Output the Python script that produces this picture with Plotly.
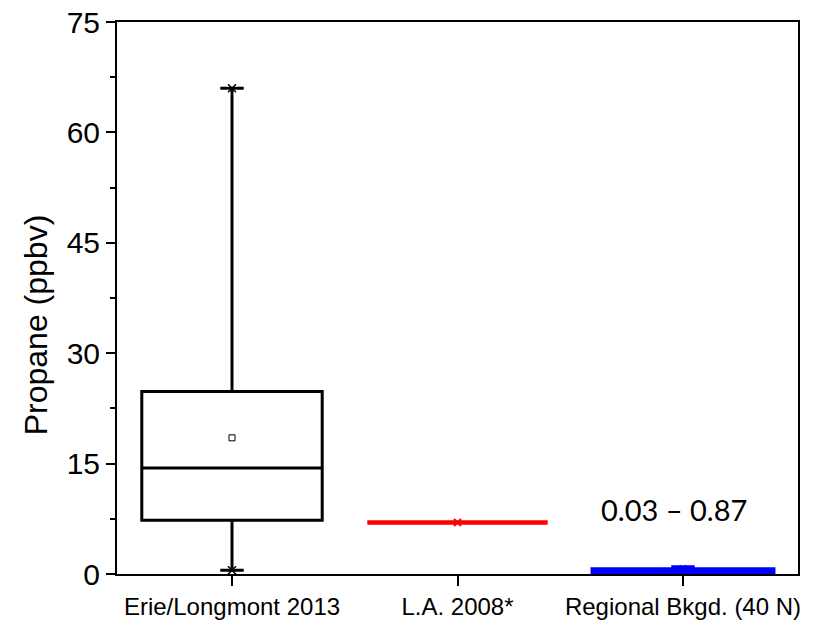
import plotly.graph_objects as go

categories = ["Erie/Longmont 2013", "L.A. 2008*", "Regional Bkgd. (40 N)"]
colors = ["black", "red", "blue"]
q1 = [7.3, 7.0, 0.3]
median = [14.4, 7.0, 0.45]
q3 = [24.8, 7.0, 0.6]
lower = [0.5, 7.0, 0.3]
upper = [66.0, 7.0, 0.87]
mean = [18.5, 7.0, 0.7]
range_label = "0.03 – 0.87"
y_title = "Propane (ppbv)"

fig = go.Figure()
for i, c in enumerate(categories):
    fig.add_trace(go.Box(
        x=[c], q1=[q1[i]], median=[median[i]], q3=[q3[i]],
        lowerfence=[lower[i]], upperfence=[upper[i]],
        line=dict(color=colors[i], width=3 if i == 0 else 4.5),
        fillcolor="rgba(0,0,0,0)", width=0.8, whiskerwidth=0.13,
        boxpoints=False, showlegend=False, hoverinfo="skip"))

# mean markers
fig.add_trace(go.Scatter(
    x=categories[:1], y=mean[:1], mode="markers",
    marker=dict(symbol="square-open", size=6, color="black", line=dict(width=1, color="black")),
    showlegend=False))
fig.add_trace(go.Scatter(
    x=categories[1:], y=mean[1:], mode="markers",
    marker=dict(symbol="x-thin-open", size=7, color=colors[1:], line=dict(width=2, color=colors[1:])),
    showlegend=False))
# fence markers for first box
fig.add_trace(go.Scatter(
    x=[categories[0], categories[0]], y=[lower[0], upper[0]], mode="markers",
    marker=dict(symbol="x-thin-open", size=8, color="black", line=dict(width=1.5, color="black")),
    showlegend=False))

fig.add_annotation(x=1.96, y=8.7, text=range_label, showarrow=False,
                   font=dict(family="Lato", size=29, color="black"))
fig.add_annotation(x=-0.1186, y=0.451, xref="paper", yref="paper", text=y_title,
                   textangle=-90, showarrow=False, xanchor="center", yanchor="middle",
                   font=dict(family="Liberation Sans", size=32, color="black"))

fig.update_layout(
    width=823, height=620,
    margin=dict(l=117, r=25, t=22, b=46),
    paper_bgcolor="white", plot_bgcolor="white",
    font=dict(family="Liberation Sans", color="black"),
)
fig.update_xaxes(
    range=[-0.51, 2.51], showgrid=False, showline=True, linecolor="black", linewidth=2,
    mirror=True, ticks="outside", ticklen=10, tickwidth=2, tickcolor="black",
    tickfont=dict(size=24), zeroline=False, automargin=False)
fig.update_yaxes(
    range=[0, 75], tickvals=[0, 15, 30, 45, 60, 75], showgrid=False, showline=True,
    linecolor="black", linewidth=2, mirror=True, ticks="outside", ticklen=9, tickwidth=2,
    tickcolor="black", tickfont=dict(size=30), zeroline=False, automargin=False,
    minor=dict(tickvals=[7.5, 22.5, 37.5, 52.5, 67.5], ticks="outside", ticklen=5, tickwidth=1.5, tickcolor="black"))

fig.write_html("out.html")
